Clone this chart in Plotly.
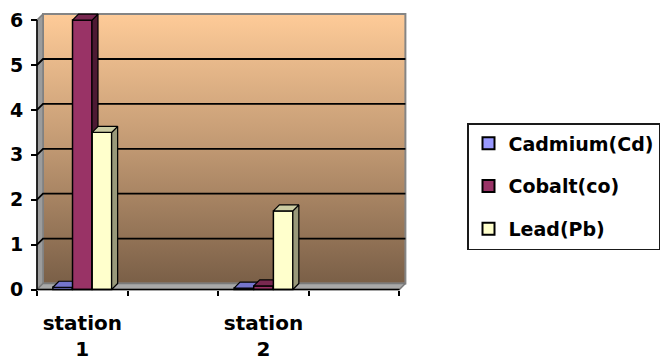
import plotly.graph_objects as go

# ---- data -------------------------------------------------------------
categories = ["station<br>1", "", "station<br>2", ""]
series_names = ["Cadmium(Cd)", "Cobalt(co)", "Lead(Pb)"]
cadmium = [0.05, None, 0.03, None]
cobalt = [6.0, None, 0.08, None]
lead = [3.5, None, 1.75, None]
y_ticks = [0, 1, 2, 3, 4, 5, 6]

# ---- styling / geometry ----------------------------------------------
W, H = 662, 360
FONT = "DejaVu Sans"
X0_PX, Y0_PX = 37, 289.5          # front origin of the value axis (pixels)
CAT_PX, UNIT_PX = 90.6, 44.9      # pixels per category / per unit
DEPTH_X_PX, DEPTH_Y_PX = 6, 6     # 3-D depth offset
DOM_L, DOM_R, DOM_T, DOM_B = 28, 412, 8, 296

dxu = DEPTH_X_PX / CAT_PX
dyu = DEPTH_Y_PX / UNIT_PX
ymax = y_ticks[-1]
ncat = len(categories)
x_lo, x_hi = -0.5, ncat - 0.5

x_range = [(DOM_L - X0_PX) / CAT_PX - 0.5, (DOM_R - X0_PX) / CAT_PX - 0.5]
y_range = [(Y0_PX - DOM_B) / UNIT_PX, (Y0_PX - DOM_T) / UNIT_PX]

BAR_W = 0.215
bar_offsets = [-0.325, -0.108, 0.109]
front_colors = ["#9999FF", "#993366", "#FFFFCC"]
top_colors = ["#7575CC", "#782850", "#CCCCA3"]
side_colors = ["#5C5C99", "#4D1A33", "#99997A"]
series_values = [cadmium, cobalt, lead]

fig = go.Figure()

# back wall with vertical gradient
fig.add_trace(go.Scatter(
    x=[x_lo + dxu, x_hi + dxu, x_hi + dxu, x_lo + dxu, x_lo + dxu],
    y=[dyu, dyu, ymax + dyu, ymax + dyu, dyu],
    mode="lines", fill="toself",
    fillgradient=dict(type="vertical", start=dyu, stop=ymax + dyu,
                      colorscale=[[0, "#7A5F47"], [0.5, "#C09872"], [1, "#FECB98"]]),
    line=dict(color="#858585", width=2),
    hoverinfo="skip", showlegend=False))

# left side wall
fig.add_trace(go.Scatter(
    x=[x_lo, x_lo + dxu, x_lo + dxu, x_lo, x_lo],
    y=[0, dyu, ymax + dyu, ymax, 0],
    mode="lines", fill="toself", fillcolor="#9C9C9C",
    line=dict(color="#808080", width=1.5),
    hoverinfo="skip", showlegend=False))

# floor
fig.add_trace(go.Scatter(
    x=[x_lo, x_hi, x_hi + dxu, x_lo + dxu, x_lo],
    y=[0, 0, dyu, dyu, 0],
    mode="lines", fill="toself", fillcolor="#A8A8A8",
    line=dict(color="#7A7A7A", width=1.5),
    hoverinfo="skip", showlegend=False))

# gridlines across side wall and back wall
gx, gy = [], []
for k in y_ticks[1:-1]:
    gx += [x_lo, x_lo + dxu, x_hi + dxu, None]
    gy += [k, k + dyu, k + dyu, None]
fig.add_trace(go.Scatter(x=gx, y=gy, mode="lines",
                         line=dict(color="black", width=1.8),
                         hoverinfo="skip", showlegend=False))

# one overlaid subplot per series so that later series cover earlier ones
xpos = list(range(ncat))
for i, (name, vals) in enumerate(zip(series_names, series_values)):
    xa, ya = f"x{i + 2}", f"y{i + 2}"
    fig.add_trace(go.Bar(
        x=xpos, y=vals, width=BAR_W, offset=bar_offsets[i],
        name=name, legendgroup=name,
        marker=dict(color=front_colors[i], line=dict(color="black", width=1.5)),
        xaxis=xa, yaxis=ya))
    tx, ty, sx, sy = [], [], [], []
    for c, v in zip(xpos, vals):
        if v is None:
            continue
        x0 = c + bar_offsets[i]
        x1 = x0 + BAR_W
        tx += [x0, x1, x1 + dxu, x0 + dxu, x0, None]
        ty += [v, v, v + dyu, v + dyu, v, None]
        sx += [x1, x1 + dxu, x1 + dxu, x1, x1, None]
        sy += [0, dyu, v + dyu, v, 0, None]
    fig.add_trace(go.Scatter(x=sx, y=sy, mode="lines", fill="toself",
                             fillcolor=side_colors[i],
                             line=dict(color="black", width=1.2),
                             hoverinfo="skip", showlegend=False,
                             legendgroup=name, xaxis=xa, yaxis=ya))
    fig.add_trace(go.Scatter(x=tx, y=ty, mode="lines", fill="toself",
                             fillcolor=top_colors[i],
                             line=dict(color="black", width=1.2),
                             hoverinfo="skip", showlegend=False,
                             legendgroup=name, xaxis=xa, yaxis=ya))

tick_font = dict(family=FONT, size=19, color="black", weight="bold")

layout_axes = {}
for i in range(len(series_names)):
    layout_axes[f"xaxis{i + 2}"] = dict(overlaying="x", matches="x", visible=False,
                                        anchor=f"y{i + 2}")
    layout_axes[f"yaxis{i + 2}"] = dict(overlaying="y", matches="y", visible=False,
                                        anchor=f"x{i + 2}")

fig.update_layout(
    width=W, height=H,
    margin=dict(l=0, r=0, t=0, b=0, autoexpand=False),
    paper_bgcolor="white", plot_bgcolor="rgba(0,0,0,0)",
    barmode="overlay",
    xaxis=dict(domain=[DOM_L / W, DOM_R / W], range=x_range,
               anchor="free", position=(H - Y0_PX) / H,
               tickmode="array", tickvals=xpos, ticktext=categories,
               ticks="", showgrid=False, zeroline=False, showline=False,
               tickfont=dict(family=FONT, size=20, color="black", weight="bold"),
               ticklabelstandoff=19,
               minor=dict(tickmode="array",
                          tickvals=[x_lo + j for j in range(ncat + 1)],
                          ticks="outside", ticklen=5, tickwidth=1.5,
                          tickcolor="black", showgrid=False)),
    yaxis=dict(domain=[(H - DOM_B) / H, (H - DOM_T) / H], range=y_range,
               anchor="free", position=X0_PX / W,
               tickmode="array", tickvals=y_ticks,
               ticks="outside", ticklen=6, tickwidth=1.5, tickcolor="black",
               showgrid=False, zeroline=False, showline=False,
               tickfont=tick_font, ticklabelstandoff=4),
    legend=dict(x=467 / W, y=(H - 123) / H, xanchor="left", yanchor="top",
                bgcolor="white", bordercolor="#1A1A1A", borderwidth=1.5,
                font=dict(family=FONT, size=19, color="black", weight="bold"),
                tracegroupgap=15, itemsizing="constant"),
    shapes=[
        dict(type="line", xref="x", yref="y", x0=x_lo, x1=x_lo, y0=0, y1=ymax,
             line=dict(color="black", width=1.5), layer="above"),
        dict(type="line", xref="x", yref="y", x0=x_lo, x1=x_hi, y0=0, y1=0,
             line=dict(color="black", width=1.5), layer="above"),
    ],
    **layout_axes,
)

fig.write_html("out.html")
